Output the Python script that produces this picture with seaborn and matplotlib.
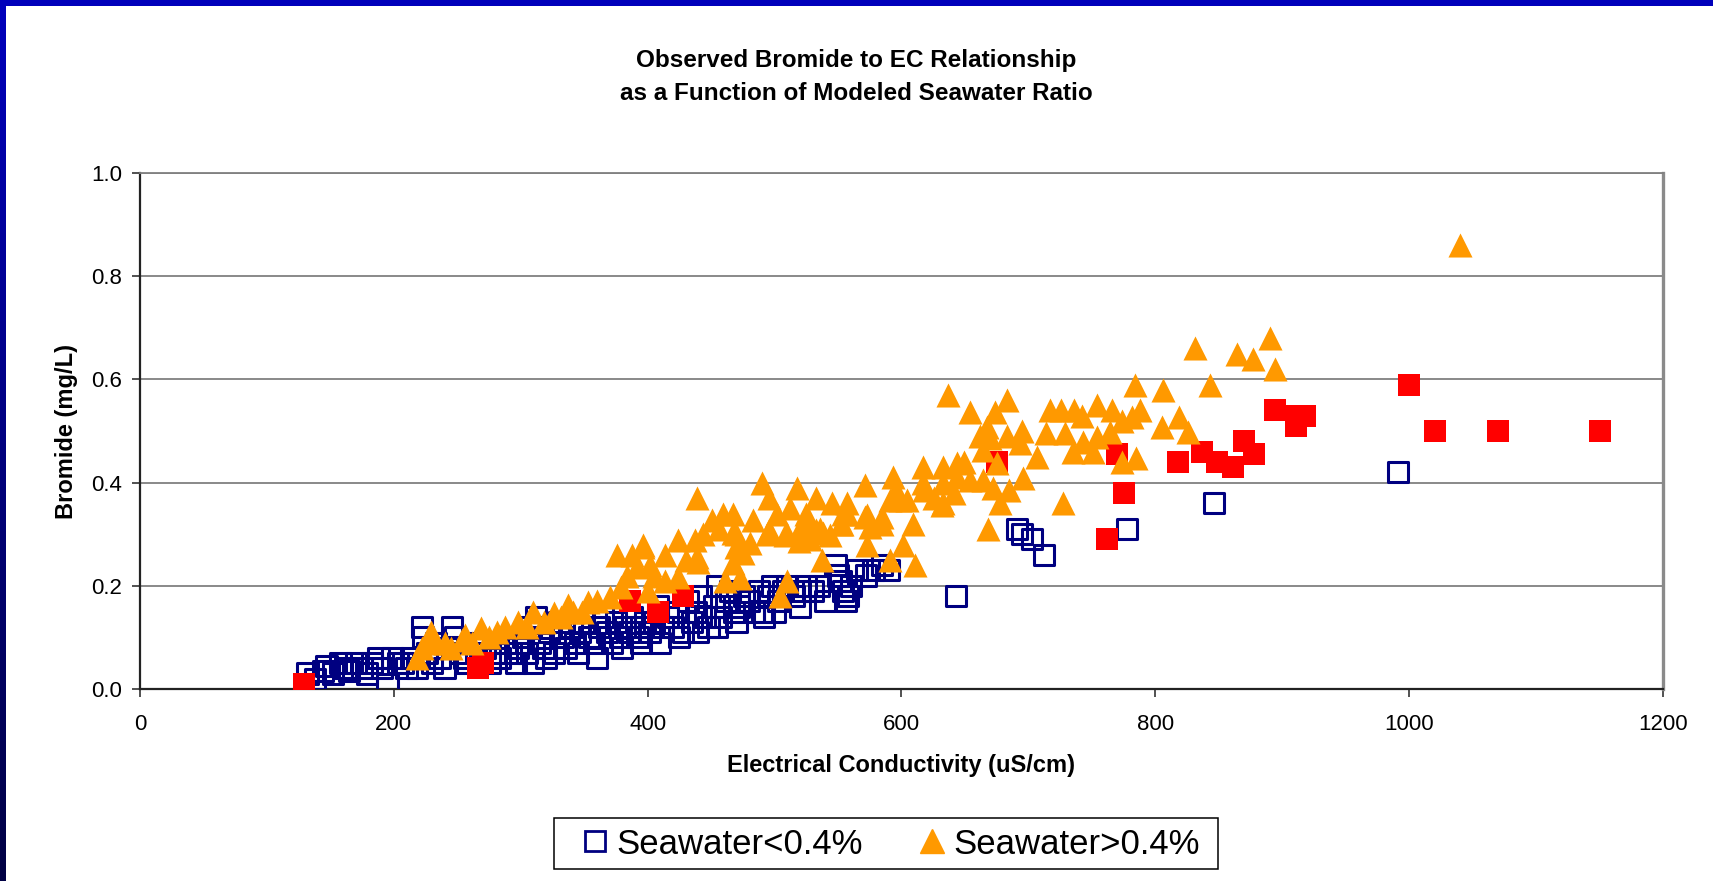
import matplotlib.pyplot as plt
import numpy as np
import pandas as pd
import seaborn as sns
from matplotlib.lines import Line2D

# Seawater < 0.4 % (open navy squares)
low_sw_ec = [132, 138, 144, 147, 152, 158, 162, 165, 170, 175, 179, 183, 188, 191, 195, 199, 203, 207, 210, 214, 218,
             222, 223, 226, 230, 233, 236, 240, 242, 246, 248, 252, 255, 258, 262, 265, 268, 272, 276, 280, 284, 288, 292, 296, 298,
             302, 305, 308, 312, 315, 318, 322, 326, 330, 333, 336, 340, 343, 347, 350, 354, 358, 362, 365, 368, 372, 375, 378,
             382, 385, 388, 392, 395, 398,
             402, 405, 408, 412, 416, 420, 424, 428, 432, 435, 438, 442, 445, 448, 452, 455, 458, 462, 465, 468, 472, 476, 480,
             484, 488, 492, 495, 498,
             503, 507, 510, 515, 520, 525, 530, 535, 548, 550, 552, 554, 556, 558, 565, 572, 578, 585, 590,
             310, 320, 345, 360, 380, 395, 410, 425, 440, 455, 470, 490, 500, 520, 540, 560,
             643, 691, 695, 703, 712, 778, 846, 991]
low_sw_br = [0.03, 0.02, 0.035, 0.045, 0.03, 0.05, 0.04, 0.035, 0.05, 0.04, 0.03, 0.05, 0.06, 0.04, 0.01, 0.06, 0.05, 0.05, 0.04, 0.06, 0.04,
             0.12, 0.10, 0.07, 0.05, 0.09, 0.06, 0.04, 0.08, 0.12, 0.10, 0.07, 0.06, 0.05, 0.09, 0.07, 0.06, 0.08, 0.05, 0.07, 0.06, 0.09, 0.07, 0.05, 0.08,
             0.10, 0.07, 0.12, 0.14, 0.09, 0.08, 0.11, 0.07, 0.13, 0.10, 0.08, 0.12, 0.09, 0.11, 0.13, 0.10, 0.09, 0.12, 0.14, 0.11, 0.09, 0.13, 0.10,
             0.12, 0.11, 0.14, 0.10, 0.12, 0.13,
             0.11, 0.13, 0.16, 0.12, 0.14, 0.12, 0.15, 0.11, 0.17, 0.13, 0.15, 0.18, 0.14, 0.12, 0.16, 0.20, 0.14, 0.17, 0.19, 0.15, 0.16, 0.18, 0.17,
             0.15, 0.19, 0.14, 0.18, 0.20,
             0.17, 0.19, 0.20, 0.18, 0.19, 0.20, 0.19, 0.20, 0.24, 0.22, 0.21, 0.19, 0.17, 0.18, 0.23, 0.22, 0.23, 0.24, 0.23,
             0.05, 0.06, 0.07, 0.06, 0.08, 0.09, 0.09, 0.10, 0.11, 0.12, 0.13, 0.15, 0.15, 0.16, 0.17, 0.20,
             0.18, 0.31, 0.30, 0.29, 0.26, 0.31, 0.36, 0.42]

# unlabelled series (filled red squares)
red_ec = [129, 266, 270, 386, 408, 428, 675, 762, 770, 775, 818, 837, 849, 861, 870, 878, 894, 911, 911, 918, 1000, 1020, 1070, 1150]
red_br = [0.01, 0.04, 0.05, 0.17, 0.15, 0.18, 0.44, 0.29, 0.455, 0.38, 0.44, 0.46, 0.44, 0.43, 0.48, 0.455, 0.54, 0.51, 0.53, 0.53, 0.59, 0.50, 0.50, 0.50]

# Seawater > 0.4 % (orange triangles)
high_sw_ec = [218, 222, 229, 229, 233, 240, 245, 254, 256, 262, 269, 275, 281, 288, 298, 305, 310, 318, 326, 332, 337, 341, 348, 353, 360,
              370, 376, 379, 384, 388, 392, 396, 396, 400, 402, 405, 414, 414, 424, 424, 430, 437, 439, 439, 440, 444, 451, 456, 459,
              461, 467, 467, 467, 470, 470, 473, 475, 481, 483, 490, 494, 496, 496, 502, 504, 508, 510, 510, 512, 518, 519, 520, 525,
              526, 528, 533, 533, 536, 537, 538, 544, 545, 552, 553, 554, 557, 557, 571, 571, 573, 573, 575, 585, 585, 591, 591, 593,
              596, 599, 601, 604, 609, 611, 617, 617, 618, 626, 632, 633, 633, 633, 637, 641, 644, 644, 649, 654, 654, 662, 664, 664,
              667, 668, 670, 672, 674, 675, 678, 683, 683, 685, 693, 695, 696, 707, 714, 717, 726, 727, 729, 735, 736, 742, 743, 751,
              754, 754, 764, 766, 774, 774, 782, 784, 785, 788, 805, 806, 819, 826, 831, 843, 864, 877, 890, 894, 1040]
high_sw_br = [0.06, 0.08, 0.10, 0.11, 0.09, 0.09, 0.08, 0.095, 0.105, 0.09, 0.118, 0.10, 0.11, 0.12, 0.13, 0.12, 0.15, 0.13, 0.147, 0.14, 0.163, 0.15, 0.15, 0.168, 0.17,
              0.178, 0.26, 0.198, 0.22, 0.26, 0.237, 0.28, 0.275, 0.19, 0.24, 0.22, 0.26, 0.21, 0.289, 0.217, 0.25, 0.289, 0.256, 0.37, 0.246, 0.30, 0.328, 0.31, 0.34,
              0.21, 0.34, 0.302, 0.244, 0.30, 0.276, 0.215, 0.263, 0.283, 0.328, 0.40, 0.30, 0.37, 0.308, 0.34, 0.18, 0.298, 0.30, 0.21, 0.35, 0.39, 0.286, 0.31, 0.34,
              0.314, 0.29, 0.37, 0.308, 0.31, 0.25, 0.302, 0.298, 0.36, 0.32, 0.32, 0.34, 0.36, 0.34, 0.395, 0.333, 0.28, 0.337, 0.314, 0.333, 0.32, 0.366, 0.25, 0.41,
              0.385, 0.366, 0.28, 0.366, 0.32, 0.24, 0.43, 0.40, 0.385, 0.37, 0.357, 0.43, 0.40, 0.36, 0.57, 0.38, 0.438, 0.41, 0.44, 0.537, 0.405, 0.49, 0.463, 0.405,
              0.508, 0.31, 0.486, 0.39, 0.537, 0.438, 0.36, 0.56, 0.49, 0.386, 0.477, 0.50, 0.409, 0.45, 0.496, 0.54, 0.54, 0.36, 0.496, 0.46, 0.54, 0.53, 0.479, 0.46,
              0.55, 0.488, 0.498, 0.54, 0.52, 0.44, 0.527, 0.59, 0.447, 0.54, 0.508, 0.58, 0.527, 0.498, 0.66, 0.59, 0.65, 0.64, 0.68, 0.62, 0.86]

x_ticks = [0, 200, 400, 600, 800, 1000, 1200]
y_ticks = [0.0, 0.2, 0.4, 0.6, 0.8, 1.0]
legend_labels = ["Seawater<0.4%", "Seawater>0.4%"]

navy = "#000080"
red = "#FF0000"
orange = "#FF9900"

sns.set_style("white")
plt.rcParams["font.family"] = ["Liberation Sans", "DejaVu Sans"]
for key in ["text.color", "axes.labelcolor", "xtick.color", "ytick.color"]:
    plt.rcParams[key] = "black"

fig = plt.figure(figsize=(17.13, 8.81), dpi=100)
ax = fig.add_axes([0.0817, 0.2179, 0.9708 - 0.0817, 0.8036 - 0.2179])

sns.scatterplot(x=low_sw_ec, y=low_sw_br, marker="s", s=210, color="none", edgecolor=navy, linewidth=2.2, ax=ax, zorder=3)
sns.scatterplot(x=red_ec, y=red_br, marker="s", s=270, color=red, edgecolor=red, linewidth=0, ax=ax, zorder=4)
sns.scatterplot(x=high_sw_ec, y=high_sw_br, marker="^", s=300, color=orange, edgecolor=orange, linewidth=0, ax=ax, zorder=5)

ax.set_xlim(0, 1200)
ax.set_ylim(0, 1.0)
ax.set_xticks(x_ticks)
ax.set_yticks(y_ticks)
ax.set_yticklabels([f"{v:.1f}" for v in y_ticks])
ax.tick_params(axis="both", direction="out", length=6, width=1.2, color="#333333",
               labelsize=16, left=True, bottom=True)
ax.tick_params(axis="x", pad=12)
ax.tick_params(axis="y", pad=7)
ax.grid(axis="y", color="#808080", linewidth=1.3, zorder=0)
ax.set_axisbelow(True)
for side in ["left", "bottom"]:
    ax.spines[side].set_color("#222222")
    ax.spines[side].set_linewidth(1.6)
ax.spines["top"].set_color("#808080")
ax.spines["top"].set_linewidth(1.3)
ax.spines["right"].set_color("#8a8a8a")
ax.spines["right"].set_linewidth(2.4)

ax.set_xlabel("Electrical Conductivity (uS/cm)", fontsize=17, fontweight="bold", labelpad=14)
ax.set_ylabel("Bromide (mg/L)", fontsize=17, fontweight="bold", labelpad=9)

fig.text(0.5, 1 - 61 / 881, "Observed Bromide to EC Relationship", ha="center", va="center",
         fontsize=17.5, fontweight="bold")
fig.text(0.5, 1 - 94 / 881, "as a Function of Modeled Seawater Ratio", ha="center", va="center",
         fontsize=17.5, fontweight="bold")

# legend: frame drawn as its own box, entries placed inside it
fig.patches.append(plt.Rectangle((554 / 1713, 1 - 869 / 881), 664 / 1713, 51 / 881, transform=fig.transFigure,
                                 facecolor="white", edgecolor="black", linewidth=1.1, zorder=6))
handles = [
    Line2D([], [], linestyle="none", marker="s", markersize=14, markerfacecolor="none",
           markeredgecolor=navy, markeredgewidth=2),
    Line2D([], [], linestyle="none", marker="^", markersize=17, markerfacecolor=orange,
           markeredgecolor=orange),
]
leg = fig.legend(handles, legend_labels, loc="center left",
                 bbox_to_anchor=(578 / 1713, 1 - 844 / 881), ncol=2, frameon=False,
                 prop={"size": 25}, handlelength=1.0, handletextpad=0.1,
                 columnspacing=1.5, borderpad=0, borderaxespad=0)
leg.set_zorder(7)

# blue slide border: top bar and a dark gradient bar on the left
fig.patches.append(plt.Rectangle((0, 1 - 6 / 881), 1, 6 / 881, transform=fig.transFigure,
                                 facecolor="#0000BB", edgecolor="none", zorder=10))
bar = fig.add_axes([0, 0, 6 / 1713, 1 - 6 / 881])
bar.imshow(np.linspace(0, 1, 100).reshape(-1, 1), aspect="auto",
           cmap=sns.blend_palette(["#0000BB", "#000044"], as_cmap=True))
bar.axis("off")

plt.savefig("out.png", dpi=100)
